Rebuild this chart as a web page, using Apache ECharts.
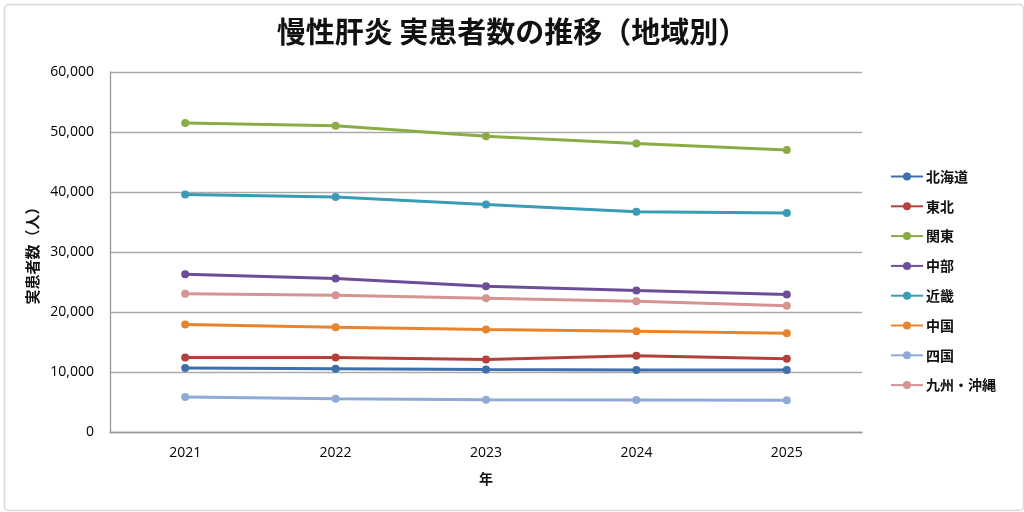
<!DOCTYPE html>
<html>
<head>
<meta charset="utf-8">
<script src="https://cdn.jsdelivr.net/npm/echarts@6/dist/echarts.min.js"></script>
<style>
html,body{margin:0;padding:0;background:#fff;}
#chart{width:1024px;height:512px;}
</style>
</head>
<body>
<div id="chart"></div>
<script>
const years = ['2021','2022','2023','2024','2025'];
const regionNames = ['北海道','東北','関東','中部','近畿','中国','四国','九州・沖縄'];
const hokkaido = [10670, 10560, 10400, 10330, 10330];
const tohoku = [12400, 12400, 12100, 12700, 12200];
const kanto = [51500, 51050, 49300, 48100, 47000];
const chubu = [26300, 25600, 24300, 23600, 22900];
const kinki = [39600, 39170, 37900, 36700, 36500];
const chugoku = [17900, 17450, 17100, 16800, 16450];
const shikoku = [5830, 5560, 5390, 5330, 5280];
const kyushu = [23060, 22800, 22300, 21800, 21060];
const yTicks = [0, 10000, 20000, 30000, 40000, 50000, 60000];

const seriesValues = [hokkaido, tohoku, kanto, chubu, kinki, chugoku, shikoku, kyushu];
const colors = ['#3d6fac','#b3403c','#8aac45','#6b4e97','#3a9bb5','#e8842e','#8eaad5','#d59391'];

const chart = echarts.init(document.getElementById('chart'));
const font = '"Noto Sans CJK JP", "Noto Sans", sans-serif';
chart.setOption({
  animation: false,
  color: colors,
  textStyle: {fontFamily: font},
  graphic: [{
    type: 'rect', left: 2, top: 2,
    shape: {width: 1019, height: 506, r: 4},
    style: {fill: 'none', stroke: '#d9d9d9', lineWidth: 1.5},
    z: -10
  }],
  title: {
    text: '慢性肝炎 実患者数の推移（地域別）',
    left: 'center', top: 12,
    textStyle: {fontSize: 29, fontWeight: 'bold', color: '#111', fontFamily: font}
  },
  legend: {
    orient: 'vertical',
    left: 885, top: 162,
    itemGap: 10.8,
    itemWidth: 32, itemHeight: 10,
    textStyle: {fontSize: 14, fontWeight: 'bold', color: '#111', fontFamily: font, padding: [0,0,0,-2], lineHeight: 19},
    data: regionNames
  },
  grid: {left: 110, right: 162, top: 72, bottom: 80},
  xAxis: {
    type: 'category',
    data: years,
    boundaryGap: true,
    name: '年', nameLocation: 'middle', nameGap: 40,
    nameTextStyle: {fontSize: 14, fontWeight: 'bold', color: '#111'},
    axisLine: {lineStyle: {color: '#999', width: 1.3}},
    axisTick: {show: false},
    axisLabel: {fontSize: 14, color: '#000', margin: 14, fontFamily: '"Open Sans", sans-serif'}
  },
  yAxis: {
    type: 'value',
    min: 0, max: 60000, interval: 10000,
    name: '実患者数（人）', nameLocation: 'middle', nameGap: 70, nameRotate: 90,
    nameTextStyle: {fontSize: 15, fontWeight: 'bold', color: '#111'},
    axisLine: {show: true, lineStyle: {color: '#999', width: 1.3}},
    axisTick: {show: false},
    splitLine: {lineStyle: {color: '#aaa', width: 1.3}},
    axisLabel: {
      fontSize: 14, color: '#000', margin: 16, fontFamily: '"Open Sans", sans-serif',
      formatter: v => yTicks.includes(v) ? v.toLocaleString('en-US') : ''
    }
  },
  series: regionNames.map((n, i) => ({
    name: n,
    type: 'line',
    data: seriesValues[i],
    symbol: 'circle',
    symbolSize: 8,
    lineStyle: {width: 3, color: colors[i]},
    itemStyle: {color: colors[i]}
  }))
});
</script>
</body>
</html>
